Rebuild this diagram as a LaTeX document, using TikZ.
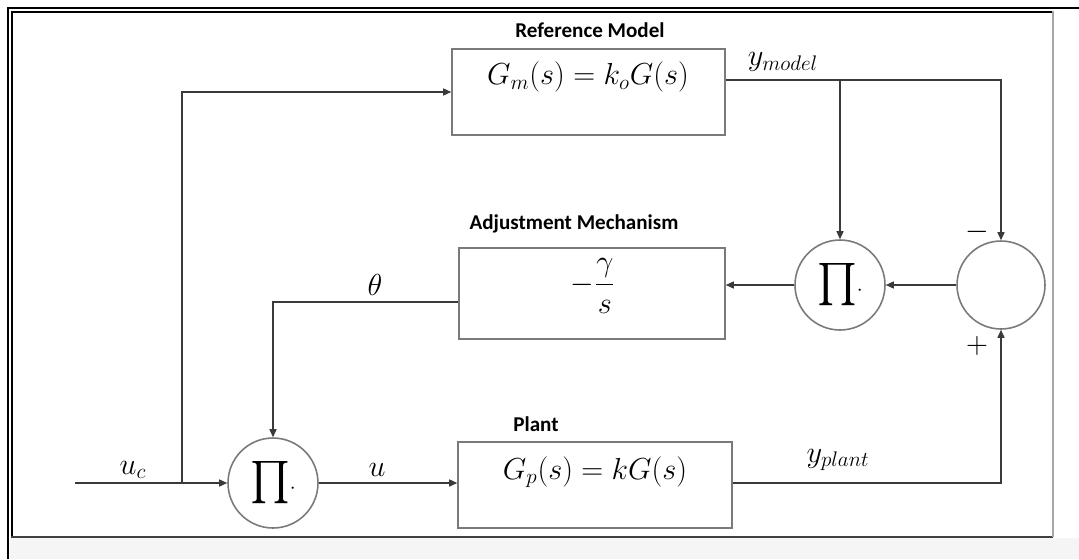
\documentclass[tikz,border=0pt]{standalone}
\usepackage{amsmath, amssymb}
\usepackage{fontspec}
\usepackage{tikz}
\usetikzlibrary{arrows.meta, positioning, calc}
\newfontfamily\lblfont{Carlito}
\definecolor{boxgray}{HTML}{7A7A7A}
\definecolor{wiregray}{HTML}{3A3A3A}
\tikzset{
  blk/.style={draw=boxgray, line width=0.9pt, minimum width=#1, minimum height=1.72cm, inner sep=0pt},
  circ/.style={circle, draw=boxgray, line width=0.9pt, minimum size=1.8cm, inner sep=0pt},
  eqn/.style={font=\fontsize{17}{20}\selectfont, inner sep=0pt},
  prodsym/.style={font=\fontsize{24}{28}\selectfont},
  ttl/.style={font=\lblfont\bfseries\fontsize{12}{14}\selectfont, inner sep=0pt},
  wire/.style={draw=wiregray, line width=0.8pt, -{Triangle[length=1.6mm,width=1.4mm]}}
}

\begin{document}
\begin{tikzpicture}[x=0.02cm, y=-0.02cm]
  \useasboundingbox (0,0) rectangle (1079,559);
  \fill[white] (0,0) rectangle (1079,559);
  \fill[gray!8] (10,538) rectangle (1079,559);
  % frames
  \draw[line width=1.2pt] (7,8) -- (1079,8);
  \draw[line width=1.2pt] (8,8) -- (8,559);
  \draw[line width=0.9pt] (1053,12) -- (12,12) -- (12,537);
  \draw[black!75, line width=1pt] (11,537) -- (1053,537);
  \draw[black!35, line width=1.5pt] (1053,11) -- (1053,537);

  % blocks
  \node[blk=5.46cm] (refm) at (588.5,92) {};
  \node[blk=5.32cm, minimum height=1.82cm] (adj) at (592,293.5) {};
  \node[blk=5.48cm] (plant) at (595,485) {};
  \node[circ, prodsym] (prodA) at (273,483) {$\prod\!{\scriptscriptstyle\cdot}$};
  \node[circ, prodsym] (prodB) at (840,285) {$\prod\!{\scriptscriptstyle\cdot}$};
  \node[circ, minimum size=1.76cm] (sum) at (1001,285) {};

  \node[eqn] (refmtx) at (588,77) {$G_m(s)=k_oG(s)$};
  \node[eqn] (adjtx) at (593,286) {$-\dfrac{\gamma}{s}$};
  \node[eqn] (planttx) at (595,472) {$G_p(s)=kG(s)$};

  \node[ttl] (refmttl) at (590,30) {Reference Model};
  \node[ttl] (adjttl) at (574,224) {Adjustment Mechanism};
  \node[ttl] (plantttl) at (536,424) {Plant};

  % signals
  \node[eqn] (uclbl) at (133,470) {$u_c$};
  \node[eqn] (ulbl) at (377,470) {$u$};
  \node[eqn] (thlbl) at (375,285) {$\theta$};
  \node[eqn] (ymlbl) at (783,62) {$y_{model}$};
  \node[eqn] (yplbl) at (838,460) {$y_{plant}$};
  \node[eqn] (minus) at (977,232) {$-$};
  \node[eqn] (plus) at (977,346) {$+$};

  \coordinate (ucin) at (75,483);
  \coordinate (jn) at (182,483);
  \coordinate (ym) at (840,80);
  \coordinate (th) at (271,302);
  \draw[wire] (ucin) -- (prodA);
  \draw[wire] (jn) |- (refm.west);
  \draw[wire] (refm.east |- ym) -| (sum.north);
  \draw[wire] (ym) -- (prodB.north);
  \draw[wire] (sum.west) -- (prodB.east);
  \draw[wire] (prodB.west) -- (prodB.west -| adj.east);
  \draw[wire] (adj.west |- th) -| (prodA.north);
  \draw[wire] (prodA.east) -- (prodA.east -| plant.west);
  \draw[wire] (plant.east |- prodA.east) -| (sum.south);
\end{tikzpicture}
\end{document}
